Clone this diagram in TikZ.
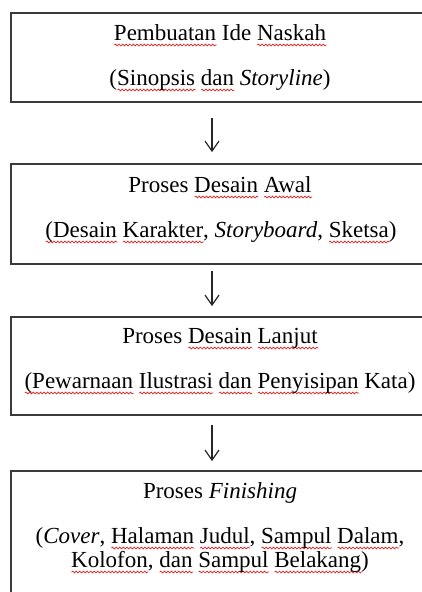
\documentclass[tikz,border=0pt]{standalone}
\usepackage{fontspec}
\setmainfont{Liberation Serif}
\usetikzlibrary{arrows.meta,decorations.pathmorphing}
\newsavebox\wvbox
\newlength\wvlen
\newcommand\wv[1]{\sbox\wvbox{#1}\setlength\wvlen{\wd\wvbox}\leavevmode\rlap{\raisebox{-5pt}[0pt][0pt]{\tikz[baseline=0pt]\draw[wavered, line width=0.7pt, decorate, decoration={snake, amplitude=0.9pt, segment length=3.6pt}] (0pt,0pt) -- (\wvlen,0pt);}}\usebox\wvbox}
\definecolor{boxline}{HTML}{3A3A3A}
\definecolor{wavered}{HTML}{E02020}
\tikzset{
  flowbox/.style={draw=boxline, line width=1.8pt, rectangle, inner sep=0pt, minimum width=419pt},
  txt/.style={anchor=base, inner sep=0pt, font=\fontsize{23}{25}\selectfont, text=black, align=center},
  arr/.style={draw=black!85, line width=1.2pt, -{Straight Barb[length=10pt,width=14pt]}},
}
\begin{document}
\begin{tikzpicture}[x=1pt,y=-1pt]
\useasboundingbox (0,0) rectangle (422,592);
\clip (0,0) rectangle (422,592);
\fill[white] (0,0) rectangle (422,592);
% boxes
\node[flowbox, minimum height=89pt] (b1) at (220.5,57.5) {};
\node[flowbox, minimum height=100pt] (b2) at (220.5,214) {};
\node[flowbox, minimum height=98pt] (b3) at (220.5,366) {};
\node[flowbox, minimum height=160pt] (b4) at (220.5,551) {};
% texts
\node[txt] (t1a) at (220,40) {\wv{Pembuatan} Ide \wv{Naskah}};
\node[txt] (t1b) at (220,85) {(\wv{Sinopsis} \wv{dan} \textit{Storyline})};
\node[txt] (t2a) at (220,192) {Proses \wv{Desain} \wv{Awal}};
\node[txt] (t2b) at (221,237) {\wv{(Desain} \wv{Karakter}, \textit{Storyboard}, \wv{Sketsa})};
\node[txt] (t3a) at (220,343) {Proses \wv{Desain} \wv{Lanjut}};
\node[txt] (t3b) at (220,388) {\wv{(Pewarnaan} \wv{Ilustrasi} \wv{dan} \wv{Penyisipan} Kata)};
\node[txt] (t4a) at (220,498) {Proses \textit{Finishing}};
\node[txt] (t4b) at (220,543) {(\textit{Cover}, \wv{Halaman} \wv{Judul}, \wv{Sampul} \wv{Dalam},};
\node[txt] (t4c) at (220,567) {\wv{Kolofon}, \wv{dan} \wv{Sampul} \wv{Belakang})};
% arrows
\coordinate (ax) at (212,0);
\draw[arr, shorten <=15pt, shorten >=11pt] (b1.south -| ax) -- (b2.north -| ax);
\draw[arr, shorten <=6pt, shorten >=10pt] (b2.south -| ax) -- (b3.north -| ax);
\draw[arr, shorten <=9pt, shorten >=9pt] (b3.south -| ax) -- (b4.north -| ax);
\end{tikzpicture}
\end{document}
